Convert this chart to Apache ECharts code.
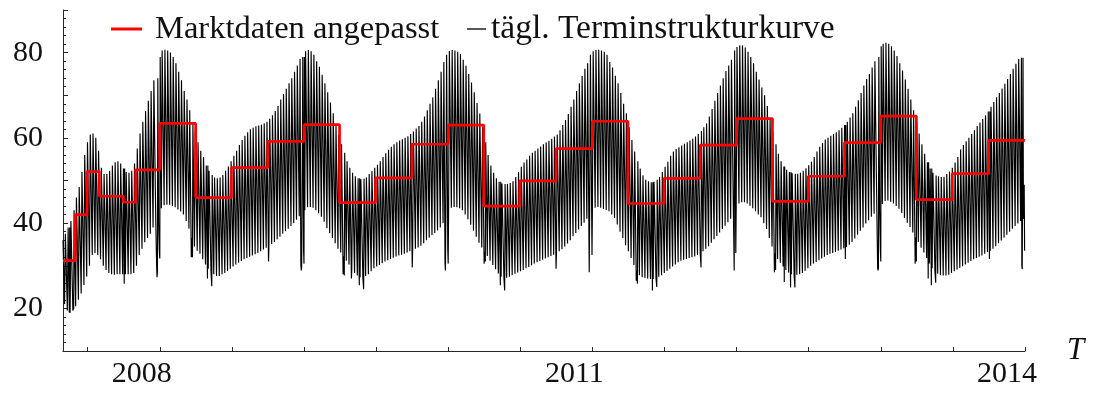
<!DOCTYPE html>
<html>
<head>
<meta charset="utf-8">
<script src="https://cdn.jsdelivr.net/npm/echarts@6/dist/echarts.min.js"></script>
<style>
  html, body { margin: 0; padding: 0; background: #fff; }
  #chart { width: 1102px; height: 394px; }
</style>
</head>
<body>
<div id="chart"></div>
<script>
// Weekly price levels of the daily forward curve (EUR/MWh).
// Weeks start on Monday; the first week begins 2007-04-30.
// peak*: Monday–Friday level, base*: Saturday–Sunday level.
const peak2007 = [36, 37.5, 39, 40.5, 43, 46, 48.5, 52, 56, 59, 60.8, 61, 60, 57, 53, 51.5, 51.5, 52.3, 53.5, 54.3, 54.5, 54, 52.8, 52, 51.8, 52.3, 54, 57.5, 61, 63.8, 66.3, 68.7, 71, 73.5, 74];
const base2007 = [21, 19.5, 19, 19.5, 20.5, 22, 23.5, 25.5, 27.5, 30, 32.5, 33, 32.5, 31.5, 30, 29, 28.3, 28, 27.9, 28, 28, 28, 28, 28, 28, 28.3, 30, 32.5, 34, 35.5, 36.5, 37.5, 39, 39.5, 40];

const peak2008 = [79, 80.5, 80.7, 80.5, 80, 79, 77.5, 75.5, 73.5, 71, 69, 66.5, 63.5, 61.5, 59, 57, 55.5, 53.5, 52.3, 51.3, 50.7, 50.5, 50.7, 51.3, 52.3, 53.3, 54.5, 55.8, 57, 58.3, 59.5, 60.5, 61.3, 62, 62.4, 62.7, 62.9, 63.1, 63.4, 63.8, 64.5, 65.3, 66.3, 67.5, 69, 70.3, 71.5, 72.8, 74, 75.5, 77, 78.5];
const base2008 = [43.5, 44.2, 44.3, 44.3, 44, 43.7, 43.2, 42.7, 42, 40.5, 38.7, 36.5, 34.5, 33.5, 32.8, 31.5, 30.3, 29.3, 28.5, 28, 27.6, 27.6, 28, 28.3, 28.8, 29.3, 29.8, 30.3, 30.7, 31.1, 31.5, 31.8, 32.1, 32.4, 32.7, 33, 33.4, 33.8, 34.2, 34.6, 35.1, 35.6, 36.2, 36.8, 37.5, 38.1, 38.7, 39.3, 40, 40.8, 41.6, 42.3];

const peak2009 = [79, 80.3, 80.6, 80.3, 79.5, 78, 76.7, 74.8, 72.8, 70.7, 68.3, 65.8, 63, 60.7, 58.5, 56.5, 54.5, 53, 51.8, 51, 50.5, 50.3, 50.4, 50.7, 51.5, 52.2, 53, 53.7, 54.5, 55.5, 56.4, 57.2, 57.9, 58.5, 59, 59.4, 59.7, 60, 60.4, 60.9, 61.5, 62.2, 62.8, 63.8, 65, 66.5, 68, 69.5, 71.5, 73.5, 75.5, 77.8];
const base2009 = [43, 43.7, 43.8, 43.6, 43, 42.3, 41.5, 40.3, 38.8, 37.6, 36.5, 35.3, 34, 33.1, 32.2, 31.2, 30.3, 29.2, 28.3, 27.7, 27.3, 27.3, 27.6, 28, 28.7, 29.4, 29.8, 30.2, 30.6, 31, 31.3, 31.6, 31.9, 32.2, 32.4, 32.6, 32.8, 33.1, 33.4, 33.7, 34, 34.3, 34.7, 35.3, 36, 36.6, 37.2, 37.7, 38.3, 39, 40, 41.5];

const peak2010 = [79.5, 80.4, 80.6, 80.5, 80.2, 79.7, 78.3, 76.9, 75, 73, 70.7, 68.2, 65.7, 62.5, 59, 56, 53.5, 51.8, 50.5, 49.7, 49.3, 49.2, 49.2, 49.4, 49.8, 50.8, 52, 53.2, 54.2, 54.9, 55.8, 56.5, 57, 57.5, 58, 58.5, 58.9, 59.3, 59.8, 60.3, 60.8, 61.8, 63, 64.2, 65.6, 67.3, 69, 71, 72.8, 74.5, 76.2, 77.5];
const base2010 = [43, 43.6, 43.8, 43.7, 43.5, 43, 42, 40.9, 39.6, 38.2, 36.8, 35.4, 34.3, 33.3, 32.3, 31.2, 30.2, 29.2, 28.2, 27.4, 27.2, 27.2, 27.4, 27.8, 28.1, 28.4, 28.7, 29, 29.4, 29.7, 30.1, 30.5, 30.8, 31.1, 31.4, 31.7, 32, 32.3, 32.6, 33, 33.4, 33.9, 34.5, 35.2, 36, 36.9, 37.7, 38.5, 39.3, 40.1, 41, 42];

const peak2011 = [79.5, 80.3, 80.6, 80.7, 80.5, 80.2, 79.5, 77.8, 76.5, 74.6, 72.8, 70.5, 68, 65.8, 62.5, 59.5, 56.8, 54.5, 52.8, 51.2, 50.2, 49.8, 49.6, 49.7, 50.2, 50.8, 52, 53.2, 54.4, 55.8, 56.8, 57.4, 57.8, 58.2, 58.6, 59, 59.4, 59.8, 60.3, 60.9, 61.6, 62.5, 63.4, 65, 66.8, 68.7, 70.5, 72.3, 74, 75.7, 77, 78.3];
const base2011 = [43.2, 43.6, 43.8, 43.6, 43.3, 43.1, 42.8, 42, 41.2, 39.7, 38, 36.5, 34.8, 33.4, 31.8, 30.2, 28.8, 27.8, 27.3, 27.1, 27, 26.9, 26.9, 27.1, 27.4, 27.8, 28.3, 28.8, 29.3, 29.8, 30.3, 30.8, 31.2, 31.4, 31.6, 31.8, 32, 32.2, 32.5, 32.9, 33.4, 34, 34.6, 35.4, 36.2, 37, 37.8, 38.6, 39.4, 40.2, 41, 41.8];

const peak2012 = [80.5, 81.3, 81.7, 81.7, 81.2, 80.2, 79, 77.5, 75.5, 73.7, 71.8, 70, 67.5, 64.5, 61.3, 58.5, 56.3, 54.5, 53.3, 52.5, 52, 51.7, 51.6, 51.6, 51.8, 52.3, 52.9, 53.6, 54.4, 55.5, 56.8, 57.9, 58.8, 59.6, 60, 60.5, 60.9, 61.3, 61.8, 62.4, 63, 63.8, 64.8, 65.8, 67.3, 68.8, 70.5, 72.3, 73.8, 75, 76.5, 78, 79];
const base2012 = [44, 44.6, 44.9, 44.9, 44.6, 44.1, 43.5, 42.8, 42, 41.4, 40, 38.6, 36.5, 34.5, 32.9, 31.6, 30.7, 29.8, 29, 28.4, 28, 27.9, 27.9, 28, 28.3, 28.8, 29.4, 30, 30.5, 30.9, 31.3, 31.7, 32.1, 32.5, 32.8, 33, 33.2, 33.5, 33.8, 34.1, 34.4, 34.9, 35.6, 36.4, 37.3, 38.2, 39, 39.9, 40.7, 41.5, 42.2, 42.8, 43.5];

const peak2013 = [81.5, 82.1, 82.3, 82.1, 81.5, 80.5, 79.2, 77.5, 75.8, 73.7, 71.5, 69, 66.5, 63.8, 61, 58.5, 56.3, 54.3, 52.8, 51.8, 51.2, 51, 50.8, 50.9, 51.5, 52.1, 53, 54.2, 55.5, 57.3, 58.3, 59.2, 60, 60.9, 61.8, 62.8, 63.6, 64.4, 65.3, 66.2, 67.3, 68.4, 69.5, 70.5, 71.6, 72.7, 73.8, 75, 76.2, 77.4, 78.5, 78.8, 49];
const base2013 = [44.5, 45.2, 45.3, 45, 44.6, 44, 43.4, 42.4, 41.2, 40.1, 39.1, 37.8, 36.6, 35.6, 34.2, 33.1, 31.8, 30.5, 29.4, 28.7, 28.1, 27.8, 27.7, 27.7, 27.9, 28.3, 28.7, 29.1, 29.5, 29.9, 30.3, 30.7, 31.1, 31.5, 31.8, 32.1, 32.4, 32.8, 33.2, 33.5, 34, 34.6, 35.3, 35.9, 36.6, 37.3, 38, 38.7, 39.3, 39.9, 40.5, 41, 41];

// Public holidays and bridge days with their own (low) level
const holidayDips = [
  ['2007-05-17', 19], ['2007-05-28', 20], ['2007-10-03', 25.8], ['2007-12-24', 30], ['2007-12-25', 27.3], ['2007-12-26', 28.5], ['2007-12-31', 33],
  ['2008-01-01', 31.7], ['2008-03-21', 32], ['2008-03-24', 32], ['2008-05-01', 27], ['2008-05-12', 25.2], ['2008-10-03', 31], ['2008-12-24', 30.5], ['2008-12-25', 28.9], ['2008-12-26', 29.5], ['2008-12-31', 33.5],
  ['2009-01-01', 30.5], ['2009-04-10', 28], ['2009-04-13', 27.7], ['2009-05-01', 27], ['2009-05-21', 25.4], ['2009-06-01', 24.5], ['2009-10-02', 29.6], ['2009-12-24', 30.5], ['2009-12-25', 28.9], ['2009-12-31', 33.5],
  ['2010-01-01', 30.5], ['2010-04-02', 30.5], ['2010-04-05', 31], ['2010-05-13', 25.4], ['2010-05-24', 24.2], ['2010-10-01', 29.3], ['2010-12-24', 28.5], ['2010-12-31', 32.5],
  ['2011-04-22', 26.5], ['2011-04-25', 25.8], ['2011-06-02', 24.2], ['2011-06-13', 25], ['2011-10-03', 29.6], ['2011-12-26', 28.9], ['2011-12-30', 33],
  ['2012-04-06', 28.5], ['2012-04-09', 29], ['2012-05-01', 26.2], ['2012-05-17', 24.9], ['2012-05-28', 24.9], ['2012-10-03', 31.6], ['2012-12-24', 29.5], ['2012-12-25', 28.9], ['2012-12-26', 29.5], ['2012-12-31', 33.5],
  ['2013-01-01', 31], ['2013-03-29', 30.5], ['2013-04-01', 31], ['2013-05-01', 27], ['2013-05-09', 25.4], ['2013-05-20', 26], ['2013-10-03', 31.6], ['2013-12-24', 30], ['2013-12-25', 29.2], ['2013-12-26', 29.5], ['2013-12-31', 33.5]
];

// Fitted market products (monthly / quarterly delivery periods)
const contractStarts = [
  '2007-05-01', '2007-06-01', '2007-07-01', '2007-08-01', '2007-10-01', '2007-11-01',
  '2008-01-01', '2008-04-01', '2008-07-01', '2008-10-01',
  '2009-01-01', '2009-04-01', '2009-07-01', '2009-10-01',
  '2010-01-01', '2010-04-01', '2010-07-01', '2010-10-01',
  '2011-01-01', '2011-04-01', '2011-07-01', '2011-10-01',
  '2012-01-01', '2012-04-01', '2012-07-01', '2012-10-01',
  '2013-01-01', '2013-04-01', '2013-07-01', '2013-10-01'
];
const contractPrices = [
  31.2, 42.0, 52.1, 46.3, 44.9, 52.5,
  63.4, 46.0, 53.0, 59.2,
  63.1, 44.8, 50.6, 58.5,
  63.0, 44.0, 49.9, 57.5,
  63.9, 44.6, 50.5, 58.3,
  64.5, 45.1, 51.0, 58.9,
  65.1, 45.5, 51.6, 59.4
];
const curveEnd = '2014-01-01';

// Axis ticks and labels
const xTickYears = [2007.5, 2008, 2008.5, 2009, 2009.5, 2010, 2010.5, 2011, 2011.5, 2012, 2012.5, 2013, 2013.5, 2014];
const xLabelYears = [2008, 2011, 2014];
const yLabelValues = [20, 40, 60, 80];

// ---------------------------------------------------------------------------
const DAY = 86400000;
function yearFraction(t) {
  const y = new Date(t).getUTCFullYear();
  const y0 = Date.UTC(y, 0, 1), y1 = Date.UTC(y + 1, 0, 1);
  return y + (t - y0) / (y1 - y0);
}
function parseDate(s) {
  const p = s.split('-').map(Number);
  return Date.UTC(p[0], p[1] - 1, p[2]);
}

const peakWeekly = [].concat(peak2007, peak2008, peak2009, peak2010, peak2011, peak2012, peak2013);
const baseWeekly = [].concat(base2007, base2008, base2009, base2010, base2011, base2012, base2013);
const holidayMap = {};
holidayDips.forEach(([d, v]) => { holidayMap[d] = v; });

const firstMonday = Date.UTC(2007, 3, 30);
const dayFirst = Date.UTC(2007, 4, 1);
const dayLast = Date.UTC(2013, 11, 31);

const dailyCurve = [];
for (let w = 0; w < peakWeekly.length; w++) {
  for (let d = 0; d < 7; d++) {
    const t = firstMonday + (7 * w + d) * DAY;
    if (t < dayFirst || t > dayLast) continue;
    const key = new Date(t).toISOString().slice(0, 10);
    const v = key in holidayMap ? holidayMap[key] : (d < 5 ? peakWeekly[w] : baseWeekly[w]);
    dailyCurve.push([yearFraction(t), v]);
  }
}

const contractSteps = contractStarts.map((s, i) => [yearFraction(parseDate(s)), contractPrices[i]]);
contractSteps.push([yearFraction(parseDate(curveEnd)), contractPrices[contractPrices.length - 1]]);

const X_MIN = yearFraction(dayFirst);
const X_MAX = yearFraction(parseDate(curveEnd));

const SERIF = "'Liberation Serif', 'DejaVu Serif', serif";
const INK = '#111';
const AXIS = '#262626';

const chart = echarts.init(document.getElementById('chart'), null, { renderer: 'canvas' });
chart.setOption({
  animation: false,
  backgroundColor: '#fff',
  grid: { left: 63, right: 77, top: 10, bottom: 43, containLabel: false, outerBoundsMode: 'none' },
  legend: [
    {
      data: [{ name: 'Marktdaten angepasst', icon: 'rect' }],
      left: 111, top: 10, padding: 0,
      itemWidth: 31, itemHeight: 3,
      selectedMode: false,
      textStyle: { fontFamily: SERIF, fontSize: 32.5, color: INK, padding: [0, 0, 0, 8], lineHeight: 38 }
    },
    {
      data: [{ name: 'tägl. Terminstrukturkurve', icon: 'rect' }],
      left: 467, top: 10, padding: 0,
      itemWidth: 19, itemHeight: 1.3,
      selectedMode: false,
      textStyle: { fontFamily: SERIF, fontSize: 33.5, color: INK, lineHeight: 38 }
    }
  ],
  xAxis: {
    type: 'value',
    min: X_MIN,
    max: X_MAX,
    name: 'T',
    nameLocation: 'end',
    nameGap: 42,
    nameTextStyle: { fontFamily: SERIF, fontStyle: 'italic', fontSize: 31, color: INK, padding: [0, 0, 8, 0] },
    axisLine: { show: true, onZero: false, lineStyle: { color: AXIS, width: 1 } },
    axisTick: { show: true, inside: true, length: 4, customValues: xTickYears, lineStyle: { color: AXIS } },
    axisLabel: {
      customValues: xLabelYears,
      formatter: v => String(Math.round(v)),
      fontFamily: SERIF, fontSize: 30, color: INK,
      margin: 8,
      padding: [0, 36, 0, 0]
    },
    splitLine: { show: false }
  },
  yAxis: {
    type: 'value',
    min: 10,
    max: 90,
    interval: 10,
    axisLine: { show: true, onZero: false, lineStyle: { color: AXIS, width: 1 } },
    axisTick: { show: true, inside: true, length: 5, lineStyle: { color: AXIS } },
    minorTick: { show: true, splitNumber: 5, length: 3, lineStyle: { color: AXIS } },
    axisLabel: {
      customValues: yLabelValues,
      fontFamily: SERIF, fontSize: 30, color: INK,
      margin: 20
    },
    splitLine: { show: false },
    minorSplitLine: { show: false }
  },
  series: [
    {
      name: 'Marktdaten angepasst',
      type: 'line',
      step: 'end',
      data: contractSteps,
      showSymbol: false,
      color: '#f00',
      lineStyle: { color: '#f00', width: 2.7 },
      z: 3
    },
    {
      name: 'tägl. Terminstrukturkurve',
      type: 'line',
      data: dailyCurve,
      showSymbol: false,
      color: '#000',
      lineStyle: { color: '#000', width: 1.15, join: 'bevel' },
      z: 2
    }
  ]
});
</script>
</body>
</html>
